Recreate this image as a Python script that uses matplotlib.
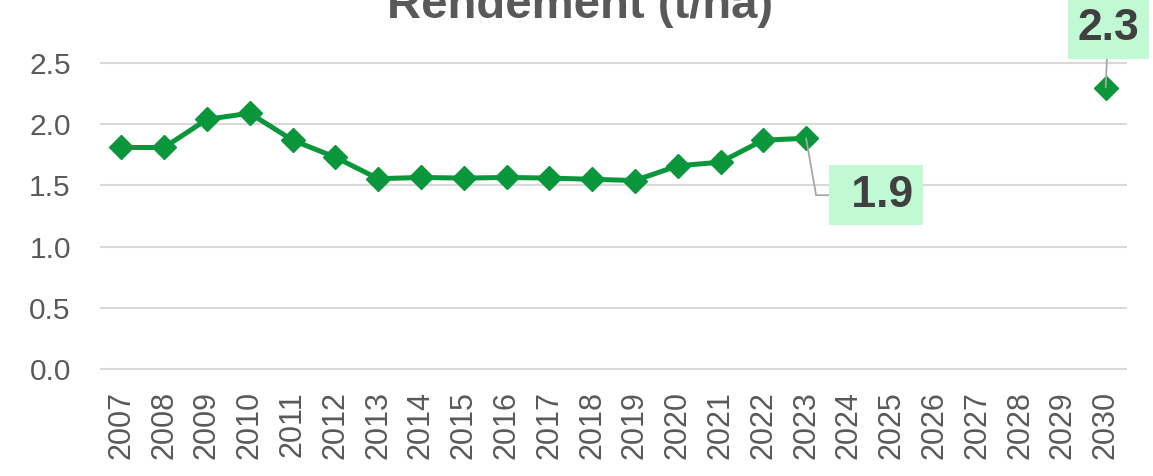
import matplotlib.pyplot as plt
import numpy as np

# ------------------------ #
# DATA
# ------------------------ #

years = [str(y) for y in range(2007, 2031)]

rendement = [1.81, 1.81, 2.04, 2.09, 1.87, 1.73, 1.555, 1.565, 1.56, 1.565,
             1.56, 1.55, 1.54, 1.66, 1.69, 1.87, 1.885,
             np.nan, np.nan, np.nan, np.nan, np.nan, np.nan,
             2.30]

yticks = [0.0, 0.5, 1.0, 1.5, 2.0, 2.5]

title = "Rendement (t/ha)"

# ------------------------ #
# PLOTTING
# ------------------------ #

plt.rcParams['font.family'] = ['Liberation Sans', 'DejaVu Sans']

green = "#0A963B"
grey_txt = "#595959"

fig = plt.figure(figsize=(11.53, 4.76), dpi=100)
ax = fig.add_axes([0.0867, 0.2197, 0.8908, 0.6530])

x = np.arange(len(years))
ax.plot(x, rendement, color=green, lw=3.6, marker="D", ms=12,
        solid_joinstyle="round", zorder=3)

ax.set_xlim(-0.5, len(years) - 0.5)
ax.set_ylim(-0.02, 2.52)
ax.set_xticks(x)
ax.set_xticklabels(years, rotation=90)
ax.set_yticks(yticks)
ax.set_yticklabels([f"{v:.1f}" for v in yticks])

ax.tick_params(axis="x", length=0, pad=14, labelsize=22, colors=grey_txt)
ax.tick_params(axis="y", length=0, pad=21, labelsize=21.5, colors=grey_txt)

for s in ax.spines.values():
    s.set_visible(False)
ax.grid(axis="y", color="#D9D9D9", lw=1.5)
ax.set_axisbelow(True)

# value labels on the last observed year and on the target year
box = dict(boxstyle="square,pad=0.22", fc="#C0F9D3", ec="none")
i23 = years.index("2023")
ax.annotate(f" {rendement[i23]:.1f}", xy=(i23, rendement[i23]),
            xytext=(17.64, 1.42), ha="center", va="center",
            fontsize=32, fontweight="bold", color="#404040", bbox=box,
            arrowprops=dict(arrowstyle="-", color="#A6A6A6", lw=1.3,
                            shrinkA=0, shrinkB=0,
                            connectionstyle="angle,angleA=0,angleB=100,rad=0"),
            annotation_clip=False, zorder=4)

i30 = years.index("2030")
ax.annotate(f"{rendement[i30]:.1f}", xy=(i30, rendement[i30]),
            xytext=(23.06, 2.78), ha="center", va="center",
            fontsize=32, fontweight="bold", color="#404040", bbox=box,
            arrowprops=dict(arrowstyle="-", color="#A6A6A6", lw=1.3,
                            shrinkA=0, shrinkB=0),
            annotation_clip=False, zorder=4)

fig.text(580 / 1153, 1 - 18 / 476, title, ha="center", va="baseline",
         fontsize=34, fontweight="bold", color=grey_txt)

plt.savefig("out.png", dpi=100)
